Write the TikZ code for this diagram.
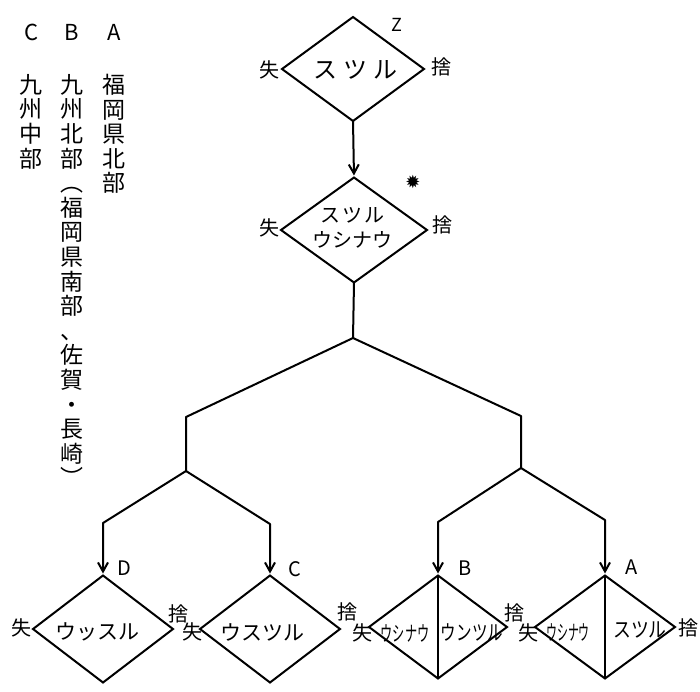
\documentclass[tikz,border=0pt]{standalone}
\usepackage{fontspec}
\usepackage{graphicx}
\newfontfamily\jp{Noto Sans CJK JP}
\newfontfamily\sym{DejaVu Sans}
\usetikzlibrary{shapes.geometric,arrows.meta}

\tikzset{
  dia/.style={diamond, draw, line width=2pt, inner sep=0pt, outer sep=0pt},
  link/.style={line width=2pt, line join=round},
  arr/.style={link, -{Straight Barb[length=9pt,width=10pt,line width=2pt]}, shorten >=2pt},
  kana/.style={font=\jp\fontsize{21}{24}\selectfont, inner sep=0pt},
  sidemark/.style={font=\jp\fontsize{20}{22}\selectfont, inner sep=0pt},
  tag/.style={font=\jp\fontsize{22}{24}\selectfont, inner sep=0pt},
  vcol/.style={font=\jp\fontsize{23}{24.6}\selectfont, align=center, inner sep=0pt, anchor=north}
}

\begin{document}
\begin{tikzpicture}[x=1pt, y=-1pt]
\useasboundingbox (0,0) rectangle (700,691);

% region legend, written top to bottom
\node[tag] (hA) at (114,32) {A};
\node[tag] (hB) at (72,32) {B};
\node[tag] (hC) at (32,32) {C};
\node[vcol] (colA) at (114,74) {福\\岡\\県\\北\\部};
\node[vcol] (colB) at (72,74) {九\\州\\北\\部\\︵\\福\\岡\\県\\南\\部\\、\\佐\\賀\\・\\長\\崎\\︶};
\node[vcol] (colC) at (31,74) {九\\州\\中\\部};

% top decision
\node[dia, minimum width=142pt, minimum height=104pt] (z) at (353,69) {};
\node[kana, font=\jp\fontsize{24}{24}\selectfont] (zt) at (355,70) {ス\hspace{6pt}ツ\hspace{6pt}ル};
\node[tag, font=\jp\fontsize{18}{20}\selectfont] (zl) at (397,25) {Z};
\node[sidemark] (zs) at (269,70) {失};
\node[sidemark] (zd) at (441,67) {捨};

% second decision
\node[dia, minimum width=146pt, minimum height=105pt] (s) at (354,230) {};
\node[kana, font=\jp\fontsize{20}{25}\selectfont, align=center] (st) at (352,228) {ス\hspace{2pt}ツ\hspace{2pt}ル\\ウシナウ};
\node[font=\sym\fontsize{18}{18}\selectfont, inner sep=0pt] (star) at (413,182) {✹};
\node[sidemark] (ss) at (269,228) {失};
\node[sidemark] (sd) at (442,225) {捨};

% bottom row
\node[dia, minimum width=140pt, minimum height=107pt] (d) at (103,629) {};
\node[dia, minimum width=140pt, minimum height=107pt] (c) at (270,629) {};
\node[dia, minimum width=138pt, minimum height=103pt] (b) at (438,627) {};
\node[dia, minimum width=140pt, minimum height=103pt] (a) at (605,627) {};
\draw[link] (b.north) -- (b.south);
\draw[link] (a.north) -- (a.south);

\node[kana] (dt) at (97,632) {ウッスル};
\node[kana] (ct) at (262,632) {ウスツル};
\node[kana] (bt1) at (405,633) {\scalebox{0.58}[1]{ウシナウ}};
\node[kana] (bt2) at (472,632) {\scalebox{0.74}[1]{ウンツル}};
\node[kana] (at1) at (568,632) {\scalebox{0.52}[1]{ウシナウ}};
\node[kana] (at2) at (640,630) {\scalebox{0.85}[1]{スツル}};

\node[tag, font=\jp\fontsize{20}{22}\selectfont] (dl) at (124,568) {D};
\node[tag, font=\jp\fontsize{20}{22}\selectfont] (cl) at (295,569) {C};
\node[tag, font=\jp\fontsize{20}{22}\selectfont] (bl) at (465,568) {B};
\node[tag, font=\jp\fontsize{20}{22}\selectfont] (al) at (632,567) {A};

\node[sidemark] (ds) at (22,628) {失};
\node[sidemark] (dd) at (178,614) {捨};
\node[sidemark] (cs) at (192,632) {失};
\node[sidemark] (cd) at (347,612) {捨};
\node[sidemark] (bs) at (362,633) {失};
\node[sidemark] (bd) at (514,613) {捨};
\node[sidemark] (as) at (528,633) {失};
\node[sidemark] (ad) at (688,628) {捨};

% branching points
\coordinate (j0) at (353,338);
\coordinate (kl) at (186,417);
\coordinate (jl) at (186,471);
\coordinate (kr) at (521,416);
\coordinate (jr) at (521,468);
\coordinate (kd) at (103,523);
\coordinate (kc) at (270,524);
\coordinate (kb) at (438,522);
\coordinate (ka) at (605,520);

% connectors
\draw[arr] (z.south) -- (s.north);
\draw[link] (s.south) -- (j0);
\draw[link] (j0) -- (kl) -- (jl);
\draw[link] (j0) -- (kr) -- (jr);
\draw[arr] (jl) -- (kd) -- (d.north);
\draw[arr] (jl) -- (kc) -- (c.north);
\draw[arr] (jr) -- (kb) -- (b.north);
\draw[arr] (jr) -- (ka) -- (a.north);
\end{tikzpicture}
\end{document}
